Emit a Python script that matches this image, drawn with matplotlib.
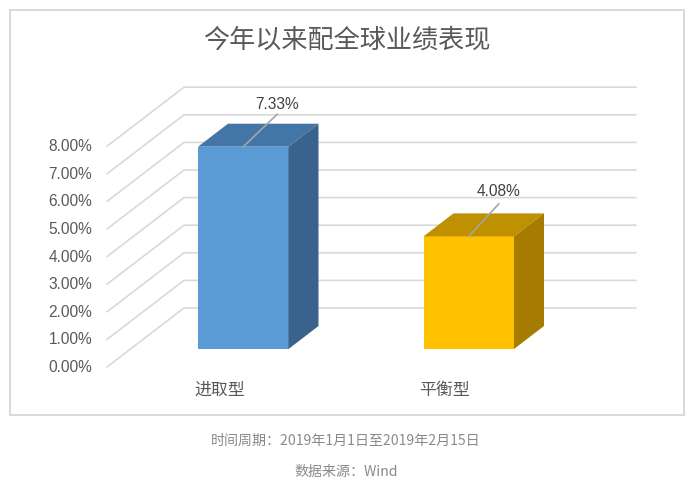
import matplotlib
matplotlib.use("Agg")
import matplotlib.pyplot as plt
from matplotlib.patches import Polygon, Rectangle

plt.rcParams['font.family'] = ['Noto Sans CJK SC', 'DejaVu Sans']

title = "今年以来配全球业绩表现"
categories = ["进取型", "平衡型"]
values = [7.33, 4.08]
value_labels = ["7.33%", "4.08%"]
tick_values = [0, 1, 2, 3, 4, 5, 6, 7, 8]
tick_labels = ["0.00%", "1.00%", "2.00%", "3.00%", "4.00%", "5.00%", "6.00%", "7.00%", "8.00%"]
footer_period = "时间周期：2019年1月1日至2019年2月15日"
footer_source = "数据来源：Wind"

front_colors = ["#5B9BD5", "#FFC000"]
top_colors = ["#4375A6", "#BF9000"]
side_colors = ["#39638C", "#A67C00"]

W, H = 695, 490
UNIT = 27.6          # pixels per percentage point
BASE_PX = 349        # pixel row of the bars' zero line

fig = plt.figure(figsize=(W / 100, H / 100), dpi=100, facecolor="white")
ax = fig.add_axes([0, 0, 1, 1])
ax.set_xlim(0, W)
ax.set_ylim((BASE_PX - H) / UNIT, BASE_PX / UNIT)
ax.axis("off")

def dy(px):
    return px / UNIT

# outer frame
ax.add_patch(Rectangle((10, dy(BASE_PX - 414.5)), 674, dy(404.5), fill=False,
                       ec="#D9D9D9", lw=1.4, zorder=1))

# wall gridlines
wall_back = dy(41)
wall_front = dy(-18)
for v in tick_values:
    ax.plot([107, 184, 636], [v + wall_front, v + wall_back, v + wall_back],
            color="#D9D9D9", lw=1.2, zorder=2, solid_capstyle="round")

# y tick labels
for v, lab in zip(tick_values, tick_labels):
    ax.text(92, v + wall_front + dy(-0.5), lab, ha="right", va="center",
            fontsize=11.2, color="#595959", family="Liberation Sans", zorder=5)

# 3-D bars
bar_left = [198, 423.5]
bar_w = 90.5
dep_x, dep_y = 30, dy(23)
leader_dx = [34, 30]
label_rise = [42, 45]
for i, (v, c) in enumerate(zip(values, categories)):
    l = bar_left[i]
    r = l + bar_w
    ax.add_patch(Rectangle((l, 0), bar_w, v, fc=front_colors[i], ec="none", zorder=3))
    ax.add_patch(Polygon([(l, v), (r, v), (r + dep_x, v + dep_y), (l + dep_x, v + dep_y)],
                         fc=top_colors[i], ec="none", zorder=3))
    ax.add_patch(Polygon([(r, 0), (r + dep_x, dep_y), (r + dep_x, v + dep_y), (r, v)],
                         fc=side_colors[i], ec="none", zorder=3))
    cx = (l + r) / 2
    # leader line and value label
    ax.plot([cx, cx + leader_dx[i]], [v, v + dy(32.5)], color="#A6A6A6", lw=1.2, zorder=4)
    ax.text(cx + leader_dx[i], v + dy(label_rise[i]), value_labels[i], ha="center", va="center",
            fontsize=11.2, color="#404040", family="Liberation Sans", zorder=5)
    # category label
    ax.text(cx - 24, dy(-40.5), c, ha="center", va="center",
            fontsize=12.2, color="#595959", zorder=5)

ax.text(347, dy(BASE_PX - 40), title, ha="center", va="center",
        fontsize=18.8, color="#595959", zorder=5)
ax.text(346, dy(BASE_PX - 441), footer_period, ha="center", va="center",
        fontsize=10.1, color="#8A8A8A", zorder=5)
ax.text(346, dy(BASE_PX - 471.5), footer_source, ha="center", va="center",
        fontsize=10.1, color="#8A8A8A", zorder=5)

fig.savefig("out.png", dpi=100, facecolor="white")
